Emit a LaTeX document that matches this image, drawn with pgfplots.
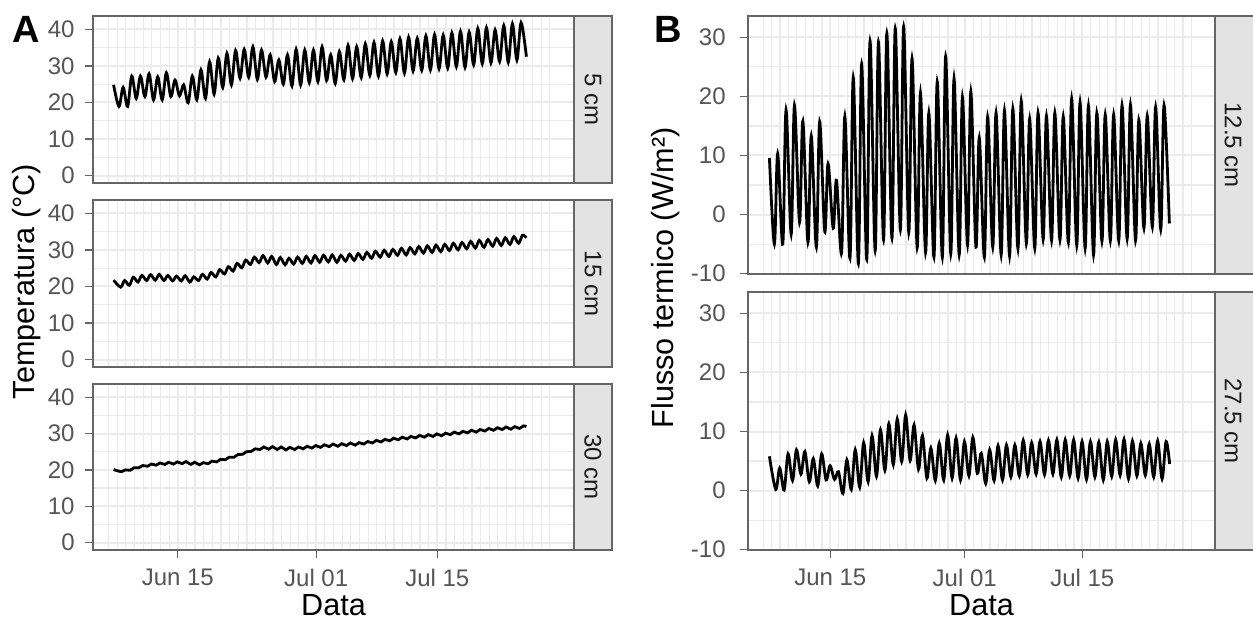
\documentclass[border=0pt]{standalone}
\usepackage{pgfplots}
\pgfplotsset{compat=1.18}
\usepackage{fontspec}
\setmainfont{Liberation Sans}
\definecolor{gridc}{HTML}{EBEBEB}
\definecolor{tickc}{HTML}{555555}
\definecolor{borderc}{HTML}{666666}
\definecolor{stripc}{HTML}{E3E3E3}
\definecolor{stript}{HTML}{1A1A1A}
\pgfplotsset{
  facet/.style={
    scale only axis, anchor=north west,
    xmin=5.2, xmax=60.8,
    tick align=outside, tick pos=left,
    major tick length=4pt, minor tick length=0pt,
    xtick={15,31,45},
    xticklabels={Jun 15,Jul 01,Jul 15},
    minor xtick={7,8,...,58},
    grid=both,
    major grid style={draw=gridc, line width=1pt},
    minor grid style={draw=gridc, line width=0.6pt},
    axis line style={draw=borderc, line width=0.8pt},
    every tick/.style={draw=borderc, line width=0.7pt},
    tick label style={font=\fontsize{12}{14}\selectfont, text=tickc},
    yticklabel style={anchor=east, inner sep=0pt},
    xticklabel style={anchor=north, inner sep=0pt, yshift=-5.5pt},
  },
  inner/.style={xticklabels={}, xtick style={draw=none}},
  tempA/.style={ymin=-2.05, ymax=43.63, ytick={0,10,20,30,40}, yticklabels={0,10,20,30,40},
    minor ytick={5,15,25,35}, width=240.5pt, height=83.5pt, yticklabel style={xshift=-5pt}},
  fluxB/.style={ymin=-10.05, ymax=33.6, ytick={-10,0,10,20,30}, yticklabels={-10,0,10,20,30},
    minor ytick={-5,5,15,25}, width=233.5pt, height=129pt, yticklabel style={xshift=-7pt}},
  dline/.style={black, line width=1.4pt, smooth, tension=0.55, mark=none},
}
\begin{document}
\begin{tikzpicture}
\path[use as bounding box] (0,0) rectangle (626.5pt,-311pt);
% ---------------- Panel A : 5 cm
\begin{axis}[facet, inner, tempA, at={(46.5pt,-8pt)}]
\addplot[dline] coordinates {(7.58,24.8)
(8.2,18.9)(8.68,24.1)(9.2,18.9)(9.68,27.2)(10.2,21.1)(10.68,27.2)(11.2,21.6)(11.68,27.8)
(12.2,20.7)(12.68,27.0)(13.2,20.7)(13.68,28.1)(14.2,21.6)(14.68,26.1)(15.2,21.8)(15.68,24.8)
(16.2,19.9)(16.68,27.2)(17.2,20.7)(17.68,28.9)(18.2,21.1)(18.68,31.1)(19.2,22.3)(19.68,32.1)
(20.2,24.1)(20.68,33.4)(21.2,24.8)(21.68,34.2)(22.2,26.6)(22.68,34.5)(23.2,26.9)(23.68,35.2)
(24.2,26.3)(24.68,34.3)(25.2,26.9)(25.68,33.0)(26.2,25.7)(26.68,31.6)(27.2,25.0)(27.68,33.0)
(28.2,24.5)(28.68,34.5)(29.2,24.8)(29.68,34.3)(30.2,25.4)(30.68,34.3)(31.2,25.7)(31.68,35.2)
(32.2,26.0)(32.68,33.0)(33.2,25.2)(33.68,33.9)(34.2,26.2)(34.68,35.6)(35.2,26.5)(35.68,35.2)
(36.2,26.8)(36.68,36.0)(37.2,27.4)(37.68,36.4)(38.2,27.2)(38.68,36.8)(39.2,27.8)(39.68,36.6)
(40.2,28.2)(40.68,37.4)(41.2,28.0)(41.68,37.8)(42.2,28.6)(42.68,37.5)(43.2,28.8)(43.68,38.2)
(44.2,28.9)(44.68,38.5)(45.2,29.2)(45.68,38.4)(46.2,29.4)(46.68,39.0)(47.2,29.8)(47.68,39.4)
(48.2,29.6)(48.68,39.2)(49.2,30.3)(49.68,40.2)(50.2,30.6)(50.68,40.4)(51.2,30.8)(51.68,39.8)
(52.2,31.2)(52.68,41.0)(53.2,31.0)(53.68,41.5)(54.2,31.6)(54.68,41.8)(55.3,32.5)};
\end{axis}
% ---------------- Panel A : 15 cm
\begin{axis}[facet, inner, tempA, at={(46.5pt,-100pt)}]
\addplot[dline] coordinates {(7.58,21.7)
(8.4,19.8)(8.85,21.6)(9.4,20.3)(9.85,22.5)(10.4,21.2)(10.85,23.0)(11.4,21.6)(11.85,23.2)
(12.4,21.7)(12.85,23.3)(13.4,21.6)(13.85,23.0)(14.4,21.5)(14.85,22.8)(15.4,21.5)(15.85,22.9)
(16.4,21.2)(16.85,22.6)(17.4,21.6)(17.85,23.3)(18.4,22.0)(18.85,23.8)(19.4,22.6)(19.85,24.6)
(20.4,23.4)(20.85,25.4)(21.4,24.2)(21.85,26.3)(22.4,25.1)(22.85,27.2)(23.4,26.0)(23.85,28.0)
(24.4,26.5)(24.85,28.4)(25.4,26.4)(25.85,28.2)(26.4,26.0)(26.85,27.9)(27.4,25.9)(27.85,27.7)
(28.4,26.1)(28.85,28.0)(29.4,26.3)(29.85,28.2)(30.4,26.4)(30.85,28.4)(31.4,26.6)(31.85,28.5)
(32.4,26.7)(32.85,28.6)(33.4,26.6)(33.85,28.5)(34.4,26.9)(34.85,28.8)(35.4,27.1)(35.85,29.0)
(36.4,27.4)(36.85,29.3)(37.4,27.7)(37.85,29.6)(38.4,28.0)(38.85,29.9)(39.4,28.2)(39.85,30.1)
(40.4,28.5)(40.85,30.4)(41.4,28.6)(41.85,30.6)(42.4,28.9)(42.85,30.9)(43.4,29.1)(43.85,31.1)
(44.4,29.3)(44.85,31.3)(45.4,29.5)(45.85,31.5)(46.4,29.8)(46.85,31.8)(47.4,30.0)(47.85,32.0)
(48.4,30.3)(48.85,32.3)(49.4,30.5)(49.85,32.6)(50.4,30.7)(50.85,32.8)(51.4,31.0)(51.85,33.1)
(52.4,31.2)(52.85,33.3)(53.4,31.5)(53.85,33.6)(54.4,31.8)(54.85,34.0)(55.3,33.3)};
\end{axis}
% ---------------- Panel A : 30 cm
\begin{axis}[facet, tempA, height=83pt, at={(46.5pt,-192pt)}]
\addplot[dline] coordinates {(7.58,20.1)
(8.5,19.5)(8.95,20.0)(9.5,19.9)(9.95,20.6)(10.5,20.6)(10.95,21.2)(11.5,21.0)(11.95,21.6)
(12.5,21.3)(12.95,21.9)(13.5,21.5)(13.95,22.1)(14.5,21.6)(14.95,22.2)(15.5,21.7)(15.95,22.3)
(16.5,21.5)(16.95,22.1)(17.5,21.4)(17.95,22.0)(18.5,21.7)(18.95,22.4)(19.5,22.2)(19.95,22.9)
(20.5,22.8)(20.95,23.5)(21.5,23.5)(21.95,24.2)(22.5,24.3)(22.95,25.0)(23.5,25.1)(23.95,25.8)
(24.5,25.6)(24.95,26.3)(25.5,25.7)(25.95,26.4)(26.5,25.6)(26.95,26.3)(27.5,25.5)(27.95,26.2)
(28.5,25.6)(28.95,26.3)(29.5,25.8)(29.95,26.5)(30.5,26.0)(30.95,26.7)(31.5,26.2)(31.95,26.9)
(32.5,26.4)(32.95,27.1)(33.5,26.5)(33.95,27.2)(34.5,26.7)(34.95,27.4)(35.5,26.8)(35.95,27.5)
(36.5,27.1)(36.95,27.8)(37.5,27.4)(37.95,28.1)(38.5,27.7)(38.95,28.4)(39.5,28.0)(39.95,28.7)
(40.5,28.3)(40.95,29.0)(41.5,28.5)(41.95,29.2)(42.5,28.8)(42.95,29.5)(43.5,29.0)(43.95,29.7)
(44.5,29.2)(44.95,29.9)(45.5,29.4)(45.95,30.1)(46.5,29.7)(46.95,30.4)(47.5,29.9)(47.95,30.6)
(48.5,30.2)(48.95,30.9)(49.5,30.4)(49.95,31.1)(50.5,30.7)(50.95,31.4)(51.5,30.9)(51.95,31.6)
(52.5,31.1)(52.95,31.8)(53.5,31.2)(53.95,31.9)(54.5,31.4)(54.95,32.1)(55.3,31.9)};
\end{axis}
% ---------------- Panel B : 12.5 cm
\begin{axis}[facet, inner, fluxB, at={(374pt,-8pt)}]
\addplot[dline] coordinates {(7.75,9.6)
(8.34,-5.0)(8.73,10.3)(9.34,-5.0)(9.73,17.7)(10.34,-3.3)(10.73,18.5)(11.34,-1.3)(11.73,15.8)
(12.34,-4.7)(12.73,13.3)(13.34,-5.5)(13.73,15.7)(14.34,-2.9)(14.73,8.6)(15.34,-2.3)(15.73,5.8)
(16.34,-6.5)(16.73,16.6)(17.34,-7.4)(17.73,23.2)(18.34,-8.3)(18.73,25.5)(19.34,-7.6)(19.73,29.4)
(20.34,-6.1)(20.73,29.2)(21.34,-4.3)(21.73,30.7)(22.34,-4.0)(22.73,31.5)(23.34,-2.6)(23.73,31.8)
(24.34,-3.0)(24.73,26.4)(25.34,-5.6)(25.73,20.6)(26.34,-6.4)(26.73,17.2)(27.34,-7.2)(27.73,22.5)
(28.34,-7.2)(28.73,26.8)(29.34,-6.6)(29.73,23.0)(30.34,-6.8)(30.73,19.9)(31.34,-5.1)(31.73,20.8)
(32.34,-5.5)(32.73,13.0)(33.34,-7.2)(33.73,16.5)(34.34,-5.5)(34.73,17.2)(35.34,-6.8)(35.73,17.6)
(36.34,-7.0)(36.73,17.9)(37.34,-5.8)(37.73,19.2)(38.34,-4.9)(38.73,16.2)(39.34,-5.7)(39.73,17.2)
(40.34,-4.2)(40.73,16.7)(41.34,-4.4)(41.73,17.2)(42.34,-4.3)(42.73,16.6)(43.34,-4.7)(43.73,19.6)
(44.34,-5.2)(44.73,19.0)(45.34,-5.7)(45.73,18.4)(46.34,-6.8)(46.73,17.2)(47.34,-4.5)(47.73,16.9)
(48.34,-4.4)(48.73,16.9)(49.34,-4.4)(49.73,18.5)(50.34,-4.1)(50.73,18.6)(51.34,-4.4)(51.73,16.0)
(52.34,-2.3)(52.73,16.7)(53.34,-2.1)(53.73,18.2)(54.34,-2.5)(54.73,18.5)(55.37,-1.5)};
\end{axis}
% ---------------- Panel B : 27.5 cm
\begin{axis}[facet, fluxB, at={(374pt,-146pt)}]
\addplot[dline] coordinates {(7.75,5.8)
(8.5,0.2)(8.97,3.8)(9.5,0.1)(9.97,6.2)(10.5,1.7)(10.97,6.9)(11.5,2.8)(11.97,6.6)
(12.5,1.5)(12.97,5.4)(13.5,0.8)(13.97,6.2)(14.5,1.8)(14.97,4.2)(15.5,1.9)(15.97,3.2)
(16.5,-0.5)(16.97,5.2)(17.5,0.2)(17.97,6.9)(18.5,0.6)(18.97,8.1)(19.5,1.5)(19.97,9.3)
(20.5,2.4)(20.97,10.3)(21.5,3.4)(21.97,11.3)(22.5,4.4)(22.97,12.1)(23.5,4.9)(23.97,12.8)
(24.5,5.1)(24.97,11.1)(25.5,3.6)(25.97,9.3)(26.5,2.1)(26.97,7.2)(27.5,1.7)(27.97,8.0)
(28.5,1.8)(28.97,9.4)(29.5,2.1)(29.97,8.9)(30.5,1.8)(30.97,8.3)(31.5,2.5)(31.97,9.0)
(32.5,2.9)(32.97,6.3)(33.5,1.2)(33.97,6.9)(34.5,1.7)(34.97,7.6)(35.5,1.8)(35.97,7.7)
(36.5,2.3)(36.97,7.7)(37.5,2.5)(37.97,8.5)(38.5,2.7)(38.97,8.1)(39.5,2.8)(39.97,8.3)
(40.5,2.7)(40.97,8.5)(41.5,2.8)(41.97,8.6)(42.5,2.3)(42.97,8.6)(43.5,2.5)(43.97,8.6)
(44.5,2.1)(44.97,8.3)(45.5,1.9)(45.97,8.3)(46.5,2.3)(46.97,8.2)(47.5,1.8)(47.97,8.3)
(48.5,2.4)(48.97,8.6)(49.5,2.6)(49.97,8.7)(50.5,2.0)(50.97,8.4)(51.5,2.5)(51.97,8.0)
(52.5,2.6)(52.97,7.9)(53.5,2.3)(53.97,8.4)(54.5,2.0)(54.97,8.3)(55.4,4.5)};
\end{axis}
% ---------------- strips
\begin{scope}[every node/.style={rotate=-90, text=stript, font=\fontsize{12}{14}\selectfont}]
\draw[fill=stripc, draw=borderc, line width=0.8pt] (287pt,-8pt) rectangle (306pt,-91.5pt);
\node at (296.5pt,-49.75pt) {5 cm};
\draw[fill=stripc, draw=borderc, line width=0.8pt] (287pt,-100pt) rectangle (306pt,-183.5pt);
\node at (296.5pt,-141.75pt) {15 cm};
\draw[fill=stripc, draw=borderc, line width=0.8pt] (287pt,-192pt) rectangle (306pt,-275pt);
\node at (296.5pt,-233.5pt) {30 cm};
\draw[fill=stripc, draw=borderc, line width=0.8pt] (607.5pt,-8pt) rectangle (627pt,-137pt);
\node at (616.5pt,-72.5pt) {12.5 cm};
\draw[fill=stripc, draw=borderc, line width=0.8pt] (607.5pt,-146pt) rectangle (627pt,-275pt);
\node at (616.5pt,-210.5pt) {27.5 cm};
\end{scope}
% ---------------- titles
\node[rotate=90, font=\fontsize{15.3}{17}\selectfont] at (13.5pt,-140.75pt) {Temperatura (°C)};
\node[rotate=90, font=\fontsize{15.3}{17}\selectfont] at (333pt,-139pt) {Flusso termico (W/m²)};
\node[font=\fontsize{15.3}{17}\selectfont] at (166.75pt,-302.5pt) {Data};
\node[font=\fontsize{15.3}{17}\selectfont] at (490.75pt,-302.5pt) {Data};
\node[font=\fontsize{19}{21}\selectfont\bfseries] at (13pt,-14.5pt) {A};
\node[font=\fontsize{19}{21}\selectfont\bfseries] at (334pt,-14.75pt) {B};
\end{tikzpicture}
\end{document}
